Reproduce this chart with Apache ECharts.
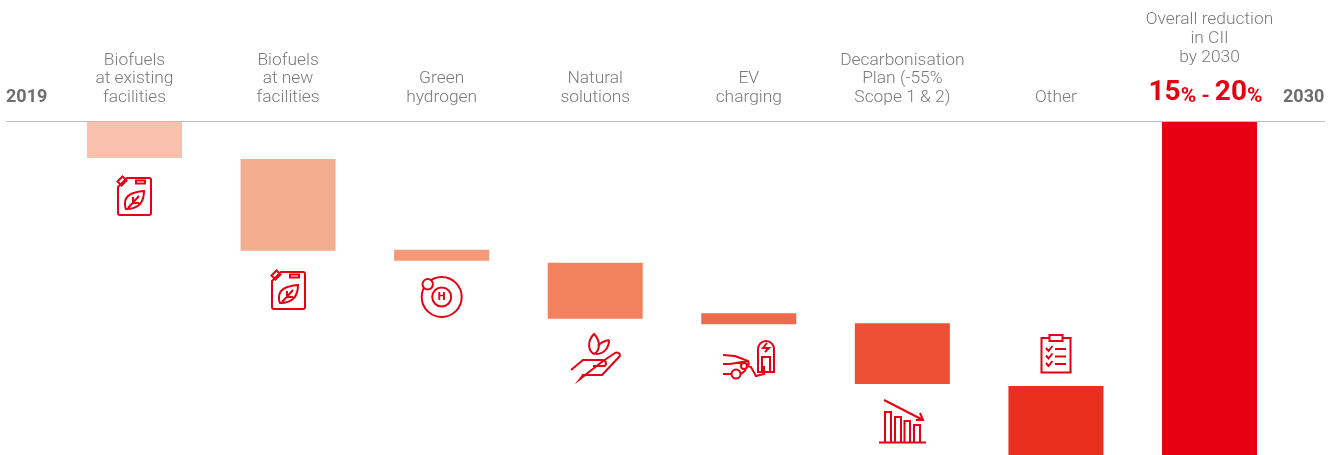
<!DOCTYPE html>
<html>
<head>
<meta charset="utf-8">
<style>
  html, body { margin: 0; padding: 0; background: #fff; }
  #chart { width: 1342px; height: 455px; }
</style>
<script src="https://cdn.jsdelivr.net/npm/echarts@6/dist/echarts.min.js"></script>
</head>
<body>
<div id="chart"></div>
<script>
var categories = [
  'Biofuels\nat existing\nfacilities',
  'Biofuels\nat new\nfacilities',
  'Green\nhydrogen',
  'Natural\nsolutions',
  'EV\ncharging',
  'Decarbonisation\nPlan (-55%\nScope 1 & 2)',
  'Other',
  'Overall reduction\nin CII\nby 2030'
]
// as share of the whole drop (0 = 2019 line, 100 = full bar)
var barStart = [0, 11.1, 38.4, 42.3, 57.4, 60.4, 79.3, 0]
var barLength = [10.8, 27.6, 3.3, 16.8, 3.3, 18.3, 20.7, 100]
var barColors = ['#f9c1ab', '#f5ad8f', '#f59a78', '#f2825d', '#ee6a4c', '#ec4f31', '#e92f1d', '#e60012']
var startYear = '2019'
var endYear = '2030'
var reductionLow = '15'
var reductionHigh = '20'

var RED = '#e60012'
var GREY = '#7a7a7a'
var FONT = 'Roboto'

var canPath = 'M1 11 L10 2 L32 2 Q34 2 34 4 L34 37 Q34 39 32 39 L3 39 Q1 39 1 37 Z ' +
  'M0.5 5.5 L5.5 0.5 L9.5 4.5 L4.5 9.5 Z M19 4.5 L28 4.5 L28 7.5 L19 7.5 Z ' +
  'M27 15 C15 16 8 19 8 27 C8 30 8 32 9 33 C20 33 27 28 27 15 Z ' +
  'M11 32 L22 20 M16 21 L16 27 L22 27'

var handPath = 'M594 334 C587 341 588 351 594 354 C600 351 601 341 594 334 Z ' +
  'M609 340 C604 341 600 343 598 346 M609 340 C609 349 603 354 596 354 ' +
  'M571 370 L583 360 L603 360 C607 361 607 366 603 366 L593 366 M603 361 L615 353 C619 351 621 355 619 357 L602 375 L583 375 L580 379 Z'

var evPath = 'M758 372 L758 349 A8 8 0 0 1 774 349 L774 372 Z M762 371 L762 357 L770 357 L770 371 ' +
  'M767 343 L763 348 L769 348 L765 352 ' +
  'M723 355 L735 356 L748 361 L749 365 M723 364 L730 364 L748 361 M723 374 L731 374 M741 374 L746 370 ' +
  'M736 369.5 A4.5 4.5 0 1 0 736 378.5 A4.5 4.5 0 1 0 736 369.5 Z ' +
  'M744 363 A3 3 0 1 0 744 369 A3 3 0 1 0 744 363 Z ' +
  'M747 366 L751 367 L756 376 L764 374 L764 366'

var trendPath = 'M879 442.5 L926 442.5 ' +
  'M885 442 L885 412 L891 412 L891 442 M895 442 L895 417 L901 417 L901 442 ' +
  'M904.5 442 L904.5 421 L910 421 L910 442 M914 442 L914 425 L920 425 L920 442 ' +
  'M884 400 L922 419.5 M916 420 L923 420 L920 413'

var clipPath = 'M1049 338 L1041.5 338 L1041.5 372.5 L1070.5 372.5 L1070.5 338 L1063 338 ' +
  'M1049.5 335 L1062.5 335 L1062.5 341 L1049.5 341 Z ' +
  'M1046 348 L1048.5 351 L1052.5 346 M1055 349 L1066 349 ' +
  'M1046 355.5 L1048.5 358.5 L1052.5 353.5 M1055 356.5 L1066 356.5 ' +
  'M1046 363 L1048.5 366 L1052.5 361 M1055 364 L1066 364'

// the graphic component has no plain path type, so each icon is registered as a shape
echarts.graphic.registerShape('iconCan', echarts.graphic.extendPath(canPath))
echarts.graphic.registerShape('iconHand', echarts.graphic.extendPath(handPath))
echarts.graphic.registerShape('iconEv', echarts.graphic.extendPath(evPath))
echarts.graphic.registerShape('iconTrend', echarts.graphic.extendPath(trendPath))
echarts.graphic.registerShape('iconClip', echarts.graphic.extendPath(clipPath))

function icon (shapeName, x, y) {
  return {
    type: shapeName,
    x: x || 0,
    y: y || 0,
    style: { fill: 'none', stroke: RED, lineWidth: 2 },
    silent: true
  }
}

var chart = echarts.init(document.getElementById('chart'))

chart.setOption({
  animation: false,
  grid: { left: 57.7, right: 55.7, top: 122, bottom: 0, containLabel: false },
  xAxis: {
    type: 'category',
    position: 'top',
    data: categories,
    axisLine: { show: false },
    axisTick: { show: false },
    axisLabel: {
      interval: 0,
      margin: 15,
      color: GREY,
      fontFamily: FONT,
      fontWeight: 300,
      fontSize: 17.4,
      lineHeight: 18.7,
      formatter: function (value, index) {
        if (index !== categories.length - 1) return value
        var lines = value.split('\n').map(function (l) { return '{t|' + l + '}' })
        lines.push('{big|' + reductionLow + '}{pct|%}{dash| - }{big|' + reductionHigh + '}{end|%}')
        return lines.join('\n')
      },
      rich: {
        t: { color: GREY, fontFamily: FONT, fontWeight: 300, fontSize: 17.4, lineHeight: 19 },
        big: { color: RED, fontFamily: FONT, fontWeight: 700, fontSize: 28, lineHeight: 40, verticalAlign: 'bottom' },
        pct: { color: RED, fontFamily: FONT, fontWeight: 700, fontSize: 21, lineHeight: 40, verticalAlign: 'bottom' },
        dash: { color: RED, fontFamily: FONT, fontWeight: 700, fontSize: 21, lineHeight: 40, verticalAlign: 'bottom' },
        end: { color: RED, fontFamily: FONT, fontWeight: 700, fontSize: 21, lineHeight: 40, verticalAlign: 'bottom', padding: [0, 8, 0, 0] }
      }
    }
  },
  yAxis: {
    type: 'value',
    inverse: true,
    min: 0,
    max: 100,
    show: false
  },
  series: [
    {
      type: 'bar',
      stack: 'drop',
      barWidth: 95,
      silent: true,
      itemStyle: { color: 'transparent' },
      data: barStart
    },
    {
      type: 'bar',
      stack: 'drop',
      barWidth: 95,
      silent: true,
      data: barLength.map(function (v, i) {
        return { value: v, itemStyle: { color: barColors[i] } }
      })
    }
  ],
  graphic: [
    { type: 'line', shape: { x1: 6, y1: 121.5, x2: 1325, y2: 121.5 }, style: { stroke: '#bdbdbd', lineWidth: 1 }, silent: true },
    { type: 'text', x: 6, y: 97, style: { text: startYear, fill: '#6d6e70', font: 'bold 18px ' + FONT, textVerticalAlign: 'middle' } },
    { type: 'text', x: 1283, y: 97, style: { text: endYear, fill: '#6d6e70', font: 'bold 18px ' + FONT, textVerticalAlign: 'middle' } },
    icon('iconCan', 117, 176),
    icon('iconCan', 271, 270),
    {
      type: 'circle',
      shape: { cx: 441.7, cy: 297, r: 20 },
      style: { fill: 'none', stroke: RED, lineWidth: 2 },
      silent: true
    },
    {
      type: 'circle',
      shape: { cx: 441.7, cy: 297, r: 9.5 },
      style: { fill: 'none', stroke: RED, lineWidth: 2 },
      silent: true
    },
    {
      type: 'circle',
      shape: { cx: 427.7, cy: 284.3, r: 5.2 },
      style: { fill: '#fff', stroke: RED, lineWidth: 2 },
      silent: true
    },
    {
      type: 'text',
      x: 441.7,
      y: 297,
      style: { text: 'H', fill: RED, font: '900 11px ' + FONT, textAlign: 'center', textVerticalAlign: 'middle' }
    },
    icon('iconHand'),
    icon('iconEv'),
    icon('iconTrend'),
    icon('iconClip')
  ]
})
</script>
</body>
</html>
